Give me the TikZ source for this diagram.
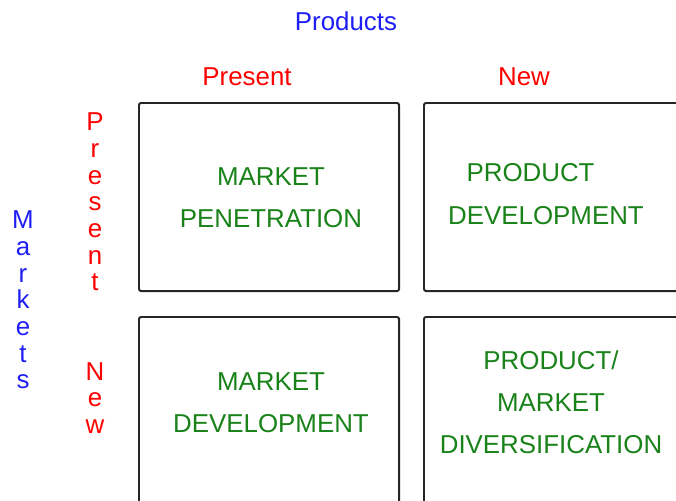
\documentclass[tikz,border=0pt]{standalone}
\usepackage{fontspec}
\setmainfont{Liberation Sans}
\definecolor{cellgreen}{RGB}{25,130,25}
\definecolor{headblue}{RGB}{30,30,245}
\begin{document}
\begin{tikzpicture}
		[x=0.025cm, y=-0.025cm,
			cell/.style ={rectangle, draw=black!85, line width=1.4pt, rounded corners=1.5pt, minimum width=6.5cm, minimum height=4.7cm, anchor=north west},
 strat/.style ={text=cellgreen, align=center, inner sep=0pt, font=\fontsize{18.4pt}{30pt}\selectfont},
 head/.style ={text=red, inner sep=0pt, font=\fontsize{18.4pt}{22pt}\selectfont},
 vhead/.style ={align=center, inner sep=0pt, font=\fontsize{18.4pt}{19pt}\selectfont}]
		\useasboundingbox (0,0) rectangle (676,500);
		% the four cells
		\node[cell] (PP) at (138,102) {};
		\node[cell] (NP) at (423,102) {};
		\node[cell] (PN) at (138,316) {};
		\node[cell] (NN) at (423,316) {};
		% strategies
		\node[strat] (pen) at (271,198) {MARKET\\PENETRATION};
		\node[strat] (pdev) at (546,194) {PRODUCT\hspace*{22pt}\\DEVELOPMENT};
		\node[strat] (mdev) at (271,403) {MARKET\\DEVELOPMENT};
		\node[strat] (div) at (551,402) {PRODUCT/\\MARKET\\DIVERSIFICATION};
		% axis headings
		\node[head, text=headblue] (prod) at (346,21) {Products};
		\node[head] (pres) at (247,77) {Present};
		\node[head] (new) at (524,77) {New};
		\node[vhead, text=headblue] (mkt) at (23,300) {M\\a\\r\\k\\e\\t\\s};
		\node[vhead, text=red] (mpres) at (95,202) {P\\r\\e\\s\\e\\n\\t};
		\node[vhead, text=red] (mnew) at (95,398) {N\\e\\w};
	\end{tikzpicture}
\end{document}
